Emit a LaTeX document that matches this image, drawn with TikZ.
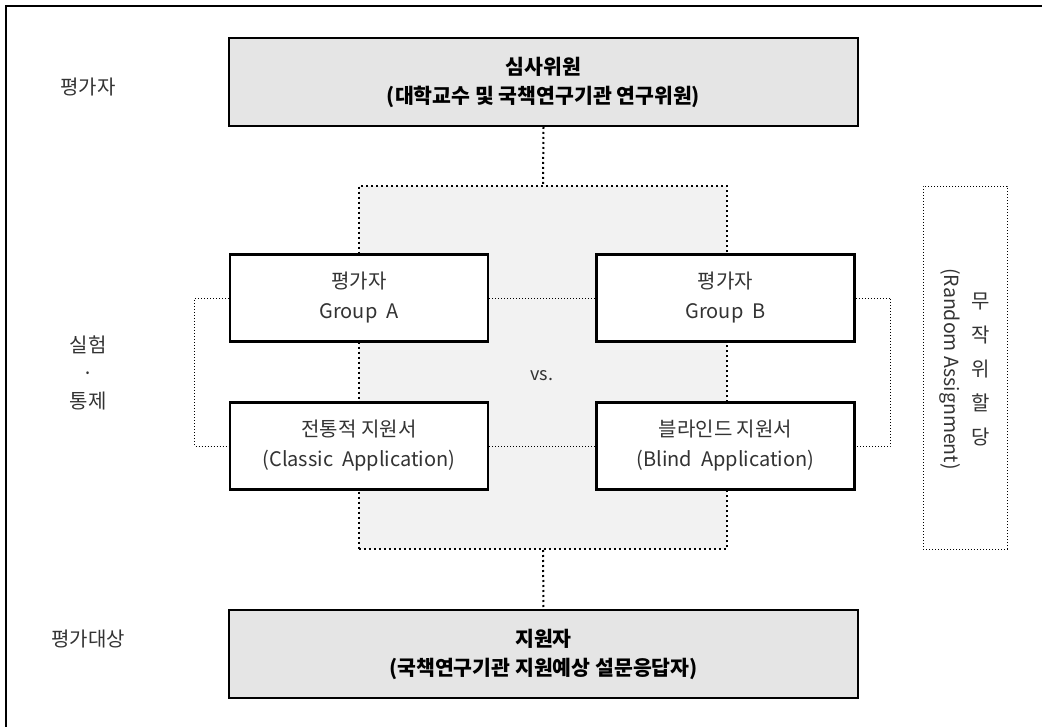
\documentclass[tikz,border=0pt]{standalone}
\usepackage{fontspec}
\setmainfont{Noto Sans CJK KR}
\usetikzlibrary{positioning}
\definecolor{boxgray}{HTML}{E5E5E5}
\definecolor{panelgray}{HTML}{F2F2F2}
\definecolor{txtgray}{HTML}{333333}
\tikzset{
  headbox/.style={draw=black, line width=2pt, fill=boxgray, minimum width=629pt, minimum height=88pt, align=center, inner sep=0pt,
    font=\fontsize{20.5}{29}\selectfont\bfseries},
  groupbox/.style={draw=black, line width=2.6pt, fill=white, minimum width=258pt, minimum height=87pt, align=center, inner sep=0pt,
    text=txtgray, font=\fontsize{20}{30}\selectfont},
  panel/.style={draw=black, fill=panelgray, line width=2pt, dash pattern=on 2pt off 3pt, minimum width=368pt, minimum height=363pt, inner sep=0pt},
  thindot/.style={draw=black, line width=0.8pt, dash pattern=on 1pt off 2pt},
  bolddot/.style={draw=black, line width=2pt, dash pattern=on 2pt off 3pt},
  sidelabel/.style={text=txtgray, font=\fontsize{20}{30}\selectfont, align=center, inner sep=0pt},
}
\begin{document}
\begin{tikzpicture}[x=1pt,y=-1pt]
\useasboundingbox (0,0) rectangle (1042,727);
% outer frame (top and left rules only)
\draw[line width=1.5pt] (6,727) -- (6,6) -- (1042,6);

% side labels
\node[sidelabel] (lab1) at (88,87) {평가자};
\node[sidelabel] (lab2) at (88,373) {실험\\[-2pt]·\\[-2pt]통제};
\node[sidelabel] (lab3) at (88,639) {평가대상};

% central panel
\node[panel] (panel) at (543,367.5) {};
\node (vs) at (542,376) [text=txtgray, font=\fontsize{18}{20}\selectfont] {vs.};

% random assignment box
\node[thindot, minimum width=84pt, minimum height=363pt, inner sep=0pt] (rand) at (965,367.5) {};
\node[rotate=-90, text=txtgray, font=\fontsize{19.5}{20}\selectfont, inner sep=0pt] (randen) at (950,369) {(Random Assignment)};
\node[text=txtgray, font=\fontsize{20}{34}\selectfont, align=center, inner sep=0pt] (randko) at (981,369) {무\\작\\위\\할\\당};

% head boxes
\node[headbox] (top) at (543.5,82) {심사위원\\(대학교수 및 국책연구기관 연구위원)};
\node[headbox] (bottom) at (543.5,654) {지원자\\(국책연구기관 지원예상 설문응답자)};

% group boxes
\node[groupbox] (ga) at (359,298) {평가자\\Group\ \ A};
\node[groupbox] (gb) at (725.5,298) {평가자\\Group\ \ B};
\node[groupbox] (ca) at (359,446) {전통적 지원서\\(Classic\ \ Application)};
\node[groupbox] (cb) at (725.5,446) {블라인드 지원서\\(Blind\ \ Application)};

% connectors
\draw[bolddot] (top.south) -- (panel.north);
\draw[bolddot] (panel.south) -- (bottom.north);
\draw[thindot] (ga.east) -- (gb.west);
\draw[thindot] (ca.east) -- (cb.west);
\draw[thindot] (ga.west) -- ++(-34,0) |- (ca.west);
\draw[thindot] (gb.east) -- ++(35,0) |- (cb.east);
\end{tikzpicture}
\end{document}
